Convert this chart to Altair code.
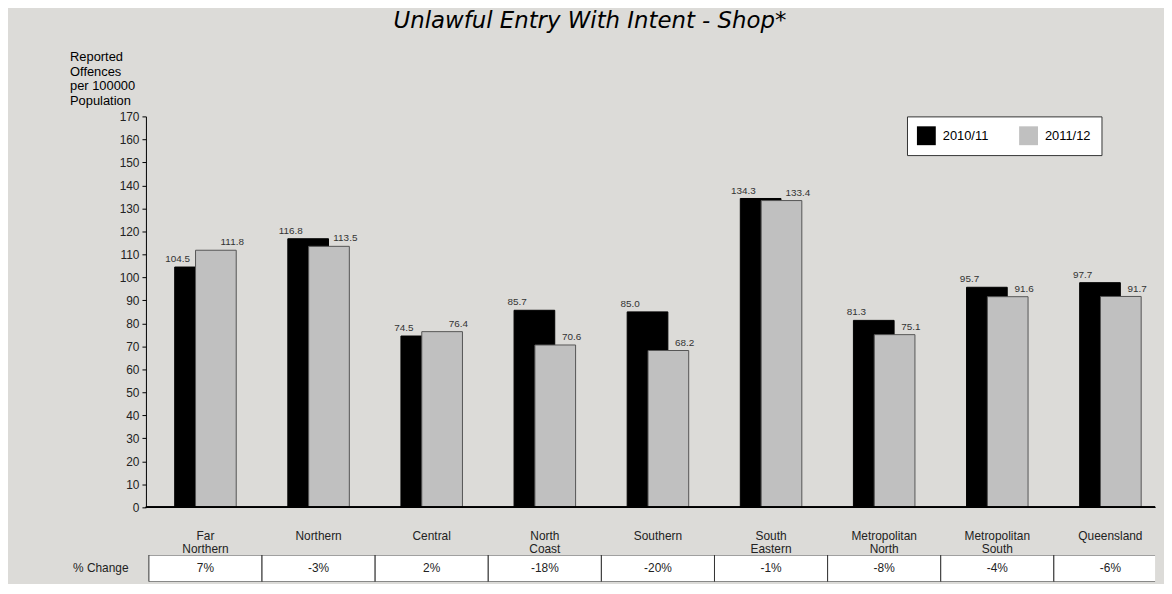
import altair as alt
import pandas as pd

regions = ["Far|Northern", "Northern", "Central", "North|Coast", "Southern",
           "South|Eastern", "Metropolitan|North", "Metropolitan|South", "Queensland"]
years = ["2010/11", "2011/12"]
v_2010 = [104.5, 116.8, 74.5, 85.7, 85.0, 134.3, 81.3, 95.7, 97.7]
v_2011 = [111.8, 113.5, 76.4, 70.6, 68.2, 133.4, 75.1, 91.6, 91.7]
pct_change = ["7%", "-3%", "2%", "-18%", "-20%", "-1%", "-8%", "-4%", "-6%"]
y_ticks = list(range(0, 171, 10))

FONT = "Liberation Sans"
BG = "#dcdbd8"
W = 1017

rows = []
for r, a, b in zip(regions, v_2010, v_2011):
    rows.append({"Region": r, "Year": years[0], "Value": a})
    rows.append({"Region": r, "Year": years[1], "Value": b})
df = pd.DataFrame(rows)
df_pct = pd.DataFrame({"Region": regions, "Row": ["% Change"] * len(regions), "Pct": pct_change})

# the source chart is slightly cropped on the right: bands of 114 px starting 3 px in
x_scale = alt.Scale(domain=regions, range=[3, 1029], paddingInner=0, paddingOuter=0)
y_scale = alt.Scale(domain=[0, 170], nice=False)

x_enc = alt.X(
    "Region:N", sort=regions, scale=x_scale,
    axis=alt.Axis(title=None, labelAngle=0, labelExpr="split(datum.label, '|')",
                  labelFontSize=12, labelColor="#222", labelPadding=23, labelLineHeight=14,
                  ticks=False, domain=False, labelFont=FONT),
)
y_axis = alt.Axis(values=y_ticks, grid=False, tickSize=4, tickColor="black", domainColor="black",
                  labelFontSize=12, labelColor="#222", labelPadding=3, labelFont=FONT,
                  title=["Reported", "Offences", "per 100000", "Population"],
                  titleAngle=0, titleAlign="left", titleBaseline="top", titleX=-77, titleY=-66,
                  titleFontSize=13, titleFontWeight="normal", titleColor="black",
                  titleLineHeight=14.7, titleFont=FONT)
y_enc = alt.Y("Value:Q", scale=y_scale, axis=y_axis)
color_enc = alt.Color(
    "Year:N",
    scale=alt.Scale(domain=years, range=["#000000", "#c0c0c0"]),
    legend=alt.Legend(title=None, orient="none", legendX=767, legendY=0, direction="horizontal",
                      fillColor="white", strokeColor="#333", padding=10,
                      symbolType="square", symbolSize=361, symbolStrokeWidth=0, symbolOpacity=1,
                      labelFontSize=13, labelColor="black", labelFont=FONT, labelOffset=7,
                      columnPadding=30),
)

base = alt.Chart(df)
baseline = base.mark_rule(color="black", strokeWidth=1).encode(
    y=alt.YDatum(0, scale=y_scale, axis=y_axis)
)
bars_a = base.transform_filter(alt.datum.Year == years[0]).mark_bar(
    width=41, xOffset=-10.5, stroke="black", strokeWidth=1
).encode(x=x_enc, y=y_enc, color=color_enc)
bars_b = base.transform_filter(alt.datum.Year == years[1]).mark_bar(
    width=41, xOffset=10.5, stroke="#555", strokeWidth=1
).encode(x=x_enc, y=y_enc, color=color_enc)
text_a = base.transform_filter(alt.datum.Year == years[0]).mark_text(
    dx=-28, dy=-5, baseline="alphabetic", fontSize=10, color="#333", font=FONT
).encode(x=x_enc, y=y_enc, text=alt.Text("Value:Q", format=".1f"))
text_b = base.transform_filter(alt.datum.Year == years[1]).mark_text(
    dx=27, dy=-5, baseline="alphabetic", fontSize=10, color="#333", font=FONT
).encode(x=x_enc, y=y_enc, text=alt.Text("Value:Q", format=".1f"))

main = alt.layer(bars_a, bars_b, baseline, text_a, text_b).properties(width=W, height=394)

tbase = alt.Chart(df_pct).encode(
    x=alt.X("Region:N", sort=regions, scale=x_scale, axis=None),
    y=alt.Y("Row:N", axis=alt.Axis(title=None, domain=False, ticks=False, labelPadding=18,
                                   labelFontSize=12, labelColor="#222", labelFont=FONT)),
)
cells = tbase.mark_rect(fill="white", stroke="#333", strokeWidth=1, clip=True)
cell_text = tbase.mark_text(fontSize=12, color="#222", font=FONT).encode(text="Pct:N")
table = alt.layer(cells, cell_text).properties(width=W, height=27)

chart = alt.vconcat(main, table, spacing=-3).resolve_scale(color="independent").resolve_legend(
    color="independent"
).properties(
    title=alt.TitleParams("Unlawful Entry With Intent - Shop*", fontSize=23, fontStyle="italic",
                          font="DejaVu Sans", fontWeight="normal", color="black", anchor="middle",
                          offset=18, dx=-27),
    padding={"left": 62, "top": 0, "right": 0, "bottom": 0},
).configure(background=BG).configure_view(strokeWidth=0)

chart.save("out.html", embed_options={"renderer": "svg", "actions": False})
